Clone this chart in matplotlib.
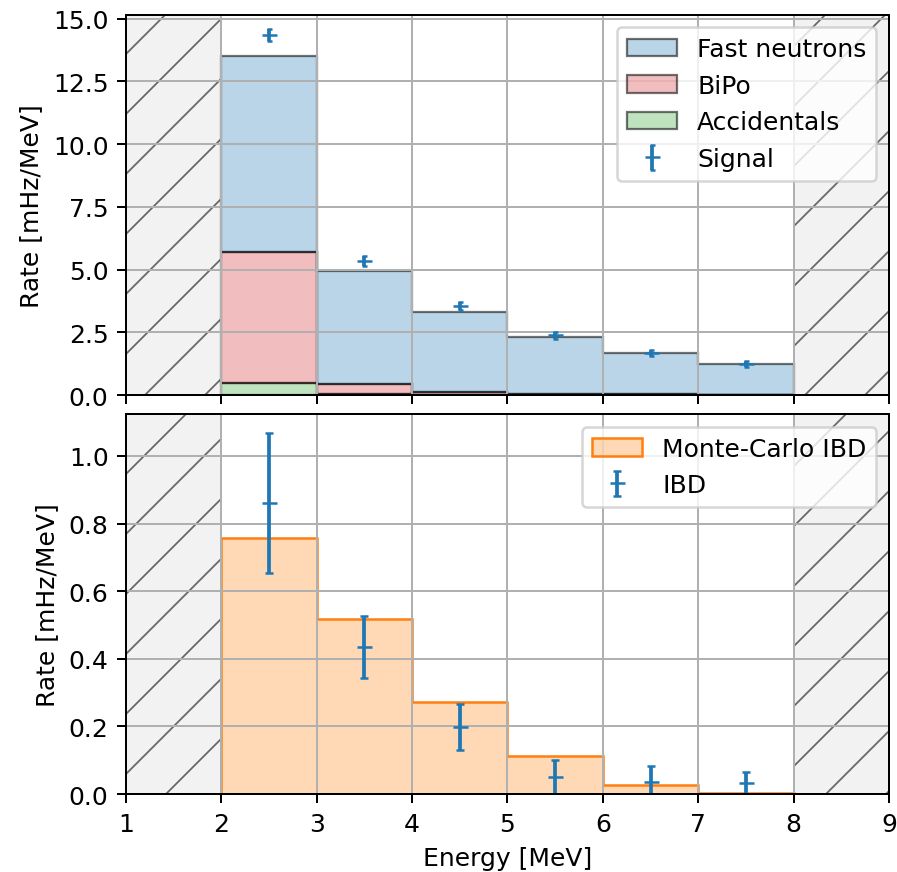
import numpy as np
import matplotlib
matplotlib.use("Agg")
import matplotlib.pyplot as plt
from matplotlib.colors import to_rgba

# energy binning (MeV)
edges = np.array([2, 3, 4, 5, 6, 7, 8])
centers = 0.5 * (edges[:-1] + edges[1:])

# background components, stacked from the bottom up (mHz/MeV)
accidentals = [0.49, 0.05, 0.02, 0.01, 0.01, 0.00]
bipo = [5.22, 0.40, 0.08, 0.03, 0.02, 0.01]
fast_neutrons = [7.79, 4.48, 3.20, 2.29, 1.63, 1.22]

signal = [14.36, 5.33, 3.53, 2.39, 1.67, 1.23]
signal_err = [0.24, 0.20, 0.16, 0.14, 0.12, 0.11]

# IBD spectrum
mc_ibd = [0.756, 0.518, 0.271, 0.112, 0.028, 0.004]
ibd = [0.861, 0.435, 0.199, 0.049, 0.037, 0.032]
ibd_err = [0.207, 0.091, 0.068, 0.052, 0.047, 0.034]

plt.rcParams["hatch.linewidth"] = 0.7

fig, (ax_top, ax_bot) = plt.subplots(2, 1, sharex=True, figsize=(897 / 180, 873 / 180), dpi=180)
fig.subplots_adjust(left=0.1405, right=0.991, top=0.9817, bottom=0.0893, hspace=0.05)

for ax in (ax_top, ax_bot):
    # excluded energy ranges
    ax.axvspan(1, 2, facecolor="0.95", edgecolor="0.4", hatch="/", lw=0.8)
    ax.axvspan(8, 9, facecolor="0.95", edgecolor="0.4", hatch="/", lw=0.8)
    ax.grid(True)

layers = [(accidentals, "C2", "Accidentals"),
          (bipo, "C3", "BiPo"),
          (fast_neutrons, "C0", "Fast neutrons")]
lower = np.zeros(len(centers))
handles = {}
for vals, color, name in layers:
    upper = lower + np.asarray(vals)
    handles[name] = ax_top.stairs(upper, edges, baseline=lower.copy(), fill=True,
                                  facecolor=to_rgba(color, 0.3), edgecolor=(0, 0, 0, 0.55),
                                  lw=0.9, label=name)
    lower = upper

sig = ax_top.errorbar(centers, signal, yerr=signal_err, fmt="_", color="C0",
                      capsize=1.0, label="Signal")
ax_top.legend([handles["Fast neutrons"], handles["BiPo"], handles["Accidentals"], sig],
              ["Fast neutrons", "BiPo", "Accidentals", "Signal"], loc="upper right")
ax_top.set_ylim(0, 15.15)
ax_top.set_ylabel("Rate [mHz/MeV]")
ax_top.tick_params(labelbottom=False)

ax_bot.stairs(mc_ibd, edges, fill=True, facecolor=to_rgba("C1", 0.3), edgecolor="C1",
              lw=1.0, label="Monte-Carlo IBD")
ax_bot.errorbar(centers, ibd, yerr=ibd_err, fmt="_", color="C0", capsize=1.5, label="IBD")
ax_bot.legend(loc="upper right")
ax_bot.set_ylim(0, 1.124)
ax_bot.set_xlim(1, 9)
ax_bot.set_xticks(range(1, 10))
ax_bot.set_xlabel("Energy [MeV]")
ax_bot.set_ylabel("Rate [mHz/MeV]")

fig.savefig("out.png", dpi=180)
